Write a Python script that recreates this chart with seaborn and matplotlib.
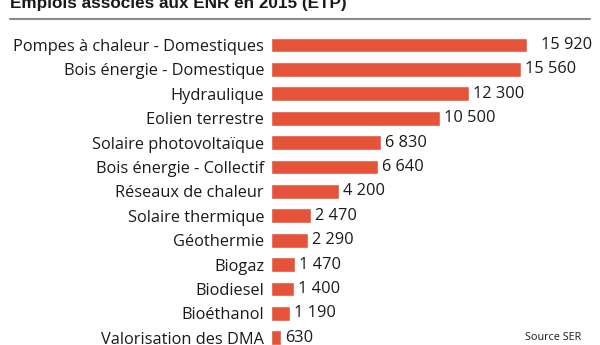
import matplotlib
matplotlib.use("Agg")
import matplotlib.pyplot as plt
import seaborn as sns
import pandas as pd

categories = [
    "Pompes à chaleur - Domestiques",
    "Bois énergie - Domestique",
    "Hydraulique",
    "Eolien terrestre",
    "Solaire photovoltaïque",
    "Bois énergie - Collectif",
    "Réseaux de chaleur",
    "Solaire thermique",
    "Géothermie",
    "Biogaz",
    "Biodiesel",
    "Bioéthanol",
    "Valorisation des DMA",
]
values = [15920, 15560, 12300, 10500, 6830, 6640, 4200, 2470, 2290, 1470, 1400, 1190, 630]
value_labels = ["15 920", "15 560", "12 300", "10 500", "6 830", "6 640", "4 200",
                "2 470", "2 290", "1 470", "1 400", "1 190", "630"]

title = "Emplois associés aux ENR en 2015 (ETP)"
source = "Source SER"

df = pd.DataFrame({"filiere": categories, "emplois": values})

sns.set_theme(style="white")
plt.rcParams["font.family"] = ["Open Sans", "DejaVu Sans"]

W, H = 600, 345
fig = plt.figure(figsize=(W / 100, H / 100), dpi=100)
fig.patch.set_facecolor("white")

# axes placed in pixel terms: bars start at x=271, plot area below the rule at y=20
left_px, right_px, top_px = 271, 590, 20
ax = fig.add_axes([left_px / W, 0, (right_px - left_px) / W, (H - top_px) / H])

bar_color = "#E4533A"
sns.barplot(data=df, y="filiere", x="emplois", orient="h", order=categories,
            color=bar_color, width=0.6, saturation=1, ax=ax)

ax.set_xlim(0, 19838)
ax.set_ylim(12.295, -1.025)
ax.set_xlabel("")
ax.set_ylabel("")
ax.set_xticks([])
for s in ax.spines.values():
    s.set_visible(False)
ax.tick_params(axis="y", length=0, pad=5, labelsize=11.8, labelcolor="#1a1a1a")

for i, (v, lab) in enumerate(zip(values, value_labels)):
    pad = 14 if i == 0 else 4
    ax.annotate(lab, xy=(v, i), xytext=(pad * 0.72, 0), textcoords="offset points",
                va="center", ha="left", fontsize=11.8, color="#1a1a1a")

# title and rule
fig.text(10 / W, 1 - 8 / H, title, ha="left", va="baseline", fontsize=12.3,
         fontweight="bold", family=["Liberation Sans", "DejaVu Sans"], color="#1a1a1a")
fig.add_artist(plt.Line2D([10 / W, 590 / W], [1 - 19 / H, 1 - 19 / H],
                          color="#8a8a8a", linewidth=1.5, transform=fig.transFigure))

fig.text(553 / W, 1 - 338 / H, source, ha="center", va="center", fontsize=7.8,
         color="#1a1a1a")

fig.savefig("out.png", dpi=100)
